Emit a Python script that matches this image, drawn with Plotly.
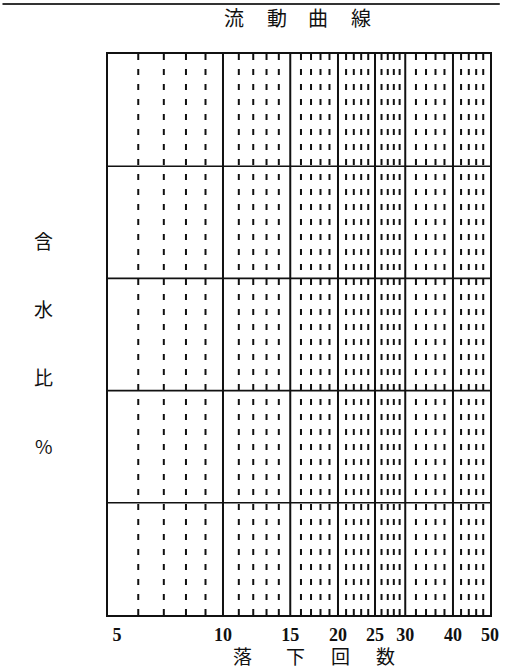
"""
流動曲線 (flow curve) blank sheet
"""
import plotly.graph_objects as go

# x ticks (落下回数) on a log scale
major_ticks = [5, 10, 15, 20, 25, 30, 40, 50]
major_labels = ["\u00a0\u00a0\u00a0\u00a05", "10", "15", "20", "25", "30", "40", "50"]
inner_solid = [10, 15, 20, 25, 30, 40]
minor_ticks = [6, 7, 8, 9, 11, 12, 13, 14, 16, 17, 18, 19,
               21, 22, 23, 24, 26, 27, 28, 29, 32, 34, 36, 38,
               42, 44, 46, 48]
# horizontal bands (含水比 %), no labels
band_lines = [1, 2, 3, 4]
y_top = 5

title_chars = ["流", "動", "曲", "線"]
ylabel_chars = ["含", "水", "比", "%"]
xlabel_chars = ["落", "下", "回", "数"]

W, H = 509, 668
L, R, T, B = 108, 10, 54, 53
pw, ph = W - L - R, H - T - B

CJK = "Noto Sans CJK JP, Noto Sans CJK SC, sans-serif"


def px_x(x):
    return (x - L) / pw


def px_y(y):
    return (H - B - y) / ph


def vlines(xs):
    vx, vy = [], []
    for x in xs:
        vx += [x, x, None]
        vy += [y_top, 0, None]
    return vx, vy


def hlines(ys):
    hx, hy = [], []
    for y in ys:
        hx += [5, 50, None]
        hy += [y, y, None]
    return hx, hy


def label(ch, x, y, size):
    return dict(text=ch, x=px_x(x), y=px_y(y), xref="paper", yref="paper",
                xanchor="center", yanchor="middle", showarrow=False,
                font=dict(family=CJK, size=size, color="#111"))


fig = go.Figure()

mx, my = vlines(minor_ticks)
fig.add_trace(go.Scatter(x=mx, y=my, mode="lines",
                         line=dict(color="#111", width=2, dash="6px,9px"),
                         hoverinfo="skip", showlegend=False))
sx, sy = vlines(inner_solid)
fig.add_trace(go.Scatter(x=sx, y=sy, mode="lines",
                         line=dict(color="#111", width=2),
                         hoverinfo="skip", showlegend=False))
hx, hy = hlines(band_lines)
fig.add_trace(go.Scatter(x=hx, y=hy, mode="lines",
                         line=dict(color="#111", width=1.6),
                         hoverinfo="skip", showlegend=False))

fig.update_xaxes(type="log", range=[0.69897, 1.69897], tickvals=major_ticks,
                 ticktext=major_labels,
                 tickfont=dict(family="Liberation Serif, serif", size=18,
                               color="#111", weight="bold"),
                 showgrid=False, zeroline=False, showline=True, mirror=True,
                 linecolor="#111", linewidth=2, ticks="", ticklabelstandoff=2)
fig.update_yaxes(range=[0, y_top], showticklabels=False, showgrid=False,
                 zeroline=False, showline=True, mirror=True,
                 linecolor="#111", linewidth=2)

ann = []
for ch, x in zip(title_chars, [237, 281, 323, 367]):
    ann.append(label(ch, x, 18, 20))
for ch, y in zip(ylabel_chars, [240, 308, 377, 445]):
    ann.append(label(ch, 42, y, 19))
for ch, x in zip(xlabel_chars, [246, 300, 346, 392]):
    ann.append(label(ch, x, 655, 19))

fig.update_layout(
    width=W, height=H,
    margin=dict(l=L, r=R, t=T, b=B),
    paper_bgcolor="white", plot_bgcolor="white",
    annotations=ann,
    shapes=[dict(type="line", xref="paper", yref="paper",
                 x0=px_x(0), x1=px_x(W), y0=px_y(4), y1=px_y(4),
                 line=dict(color="#333", width=2))],
)

# drop the default page margin so the figure sits at the window origin
fig.write_html("out.html", config={"responsive": False, "displayModeBar": False},
               post_script="document.body.style.margin='0';"
                           "document.body.style.overflow='hidden';")
